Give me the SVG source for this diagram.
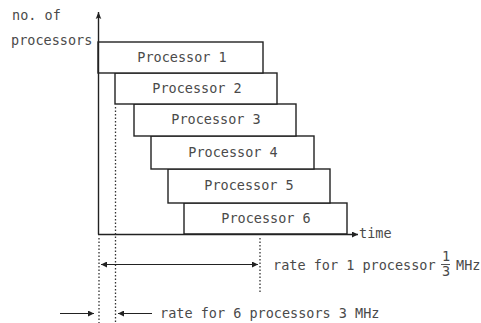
<svg xmlns="http://www.w3.org/2000/svg" width="481" height="323" viewBox="0 0 481 323">
<defs>
<marker id="ah" viewBox="0 0 10 10" refX="10" refY="5" markerWidth="9" markerHeight="7" orient="auto-start-reverse" markerUnits="userSpaceOnUse">
<path d="M0,1 L10,5 L0,9 L2,5 Z" fill="#222"/>
</marker>
<marker id="ahs" viewBox="0 0 10 10" refX="10" refY="5" markerWidth="8" markerHeight="6" orient="auto-start-reverse" markerUnits="userSpaceOnUse">
<path d="M0,0 L10,5 L0,10 Z" fill="#222"/>
</marker>
</defs>
<style>
.box{fill:#fff;stroke:#222;stroke-width:1.4}
.t{font-family:"DejaVu Sans Mono","Liberation Mono",monospace;font-size:13.5px;fill:#4a4a4a}
.ax{stroke:#222;stroke-width:1.4;fill:none}
.ln{stroke:#222;stroke-width:1.2;fill:none}
.dot{stroke:#333;stroke-width:1.3;stroke-dasharray:1.5 2;fill:none}
</style>
<rect width="481" height="323" fill="#fff"/>
<g id="labels">
<text class="t" x="12" y="20" font-size="12.8">no. of</text>
<text class="t" x="11" y="45" font-size="12.8">processors</text>
<text class="t" x="359" y="238" font-size="12.8">time</text>
<text class="t" x="273" y="270" font-size="13">rate for 1 processor</text>
<text class="t" x="442" y="261" font-size="10">1</text>
<line x1="441" y1="264.5" x2="450" y2="264.5" stroke="#555" stroke-width="1"/>
<text class="t" x="442" y="276" font-size="10">3</text>
<text class="t" x="456" y="270">MHz</text>
<text class="t" x="160" y="318" font-size="13.1">rate for 6 processors 3 MHz</text>
</g>
<g id="p6"><rect class="box" x="184" y="203" width="163" height="31"/><text class="t" x="266" y="223" text-anchor="middle">Processor 6</text></g>
<g id="p5"><rect class="box" x="168" y="169" width="162" height="34"/><text class="t" x="249" y="190" text-anchor="middle">Processor 5</text></g>
<g id="p4"><rect class="box" x="151" y="136" width="163" height="33"/><text class="t" x="233" y="157" text-anchor="middle">Processor 4</text></g>
<g id="p3"><rect class="box" x="134" y="104" width="162" height="32"/><text class="t" x="216" y="124" text-anchor="middle">Processor 3</text></g>
<g id="p2"><rect class="box" x="115" y="73" width="162" height="31"/><text class="t" x="197" y="93" text-anchor="middle">Processor 2</text></g>
<g id="p1"><rect class="box" x="98" y="42" width="165" height="31"/><text class="t" x="182" y="62" text-anchor="middle">Processor 1</text></g>
<g id="connectors">
<line class="ax" x1="98.5" y1="234.5" x2="98.5" y2="12" marker-end="url(#ah)"/>
<line class="ax" x1="98" y1="234.5" x2="358" y2="234.5" marker-end="url(#ahs)"/>
<line class="dot" x1="99" y1="238" x2="99" y2="323"/>
<line class="dot" x1="115.5" y1="107" x2="115.5" y2="323"/>
<line class="dot" x1="260" y1="238" x2="260" y2="292"/>
<line class="ln" x1="101" y1="264.5" x2="258" y2="264.5" marker-start="url(#ahs)" marker-end="url(#ahs)"/>
<line class="ln" x1="60" y1="313.5" x2="94" y2="313.5" marker-end="url(#ahs)"/>
<line class="ln" x1="152" y1="313.5" x2="118" y2="313.5" marker-end="url(#ahs)"/>
</g>
</svg>
